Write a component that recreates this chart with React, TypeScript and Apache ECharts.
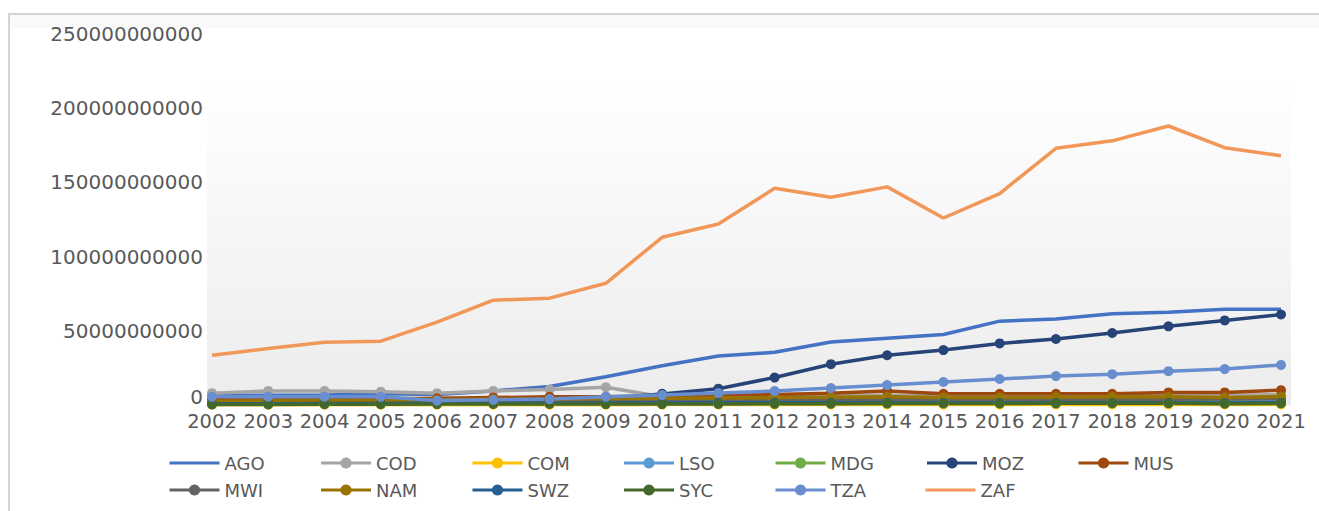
import React, { useEffect, useRef } from "react";
import * as echarts from "echarts";

const years = ["2002","2003","2004","2005","2006","2007","2008","2009","2010","2011","2012","2013","2014","2015","2016","2017","2018","2019","2020","2021"];

// values in billions
const AGO = [6.5, 6.5, 6.8, 7.5, 7, 9.5, 12.5, 19, 26.5, 33, 35.5, 42.5, 45, 47.5, 56.5, 58, 61.5, 62.5, 64.5, 64.5];
const COD = [8, 9.5, 9.5, 9, 8, 9.5, 10.5, 12, 5.5, 6, 6, 6.5, 6.5, 6, 6, 6.5, 6.5, 6.5, 6.5, 7];
const COM = [0.15, 0.15, 0.2, 0.2, 0.2, 0.25, 0.25, 0.25, 0.3, 0.3, 0.3, 0.3, 0.35, 0.3, 0.3, 0.35, 0.35, 0.4, 0.35, 0.4];
const LSO = [1.2, 1.4, 1.6, 1.7, 1.8, 1.9, 2, 2, 2.3, 2.6, 2.7, 2.6, 2.6, 2.5, 2.3, 2.5, 2.6, 2.5, 2.2, 2.5];
const MDG = [2, 2.2, 2.4, 2.6, 2.8, 3, 3.3, 3, 3.2, 3.5, 3.6, 3.7, 3.8, 3.5, 3.6, 4, 4.2, 4.3, 4, 4.8];
const MOZ = [2.2, 2.3, 2.5, 2.6, 2.8, 3, 3.2, 4.5, 7.5, 11, 18.5, 27.5, 33.5, 37, 41.5, 44.5, 48.5, 53, 57, 61];
const MUS = [3.5, 3.8, 4, 4.2, 4.5, 5, 5.5, 5.5, 6, 6.5, 7, 8, 9.5, 7.5, 7.5, 7.5, 7.5, 8.5, 8.5, 10];
const MWI = [1.5, 1.6, 1.7, 1.8, 2, 2.2, 2.5, 2.8, 3, 3.2, 3.3, 3.4, 3.5, 3.5, 3.4, 3.6, 3.8, 3.9, 4, 4.2];
const NAM = [2.5, 2.8, 3, 3.2, 3.5, 3.8, 4, 4.2, 4.5, 4.8, 5, 5.2, 5.5, 5, 5, 5.2, 5.4, 5.5, 5, 5.6];
const SWZ = [0.8, 0.9, 1, 1, 1.1, 1.2, 1.2, 1.3, 1.4, 1.5, 1.5, 1.5, 1.5, 1.4, 1.4, 1.5, 1.5, 1.5, 1.4, 1.6];
const SYC = [0.4, 0.4, 0.5, 0.5, 0.6, 0.7, 0.7, 0.6, 0.6, 0.7, 0.8, 0.9, 1, 1, 1, 1.1, 1.2, 1.2, 0.9, 1.1];
const TZA = [5.5, 5.6, 5.6, 5.5, 3, 3.5, 4, 5.5, 6.7, 8.1, 9.4, 11.4, 13.4, 15.5, 17.5, 19.5, 20.8, 22.8, 24.2, 27];
const ZAF = [33.6, 38, 42.3, 43, 55.8, 70.6, 72, 82, 113, 122, 146, 140, 147, 126, 142.5, 173, 178, 188, 173.4, 168];

const seriesNames = ["AGO","COD","COM","LSO","MDG","MOZ","MUS","MWI","NAM","SWZ","SYC","TZA","ZAF"];
const seriesValues = [AGO, COD, COM, LSO, MDG, MOZ, MUS, MWI, NAM, SWZ, SYC, TZA, ZAF];
const seriesColors = ["#4472C4","#A5A5A5","#FFC000","#5B9BD5","#70AD47","#264478","#9E480E","#636363","#997300","#255E91","#43682B","#698ED0","#F1975A"];
const noMarker = ["AGO","ZAF"];

const yMax = 250000000000;
const yStep = 50000000000;

export default function App() {
  const ref = useRef<HTMLDivElement>(null);
  useEffect(() => {
    if (!ref.current) return;
    const chart = echarts.init(ref.current, null, { renderer: "svg" });
    const font = "DejaVu Sans";
    chart.setOption({
      animation: false,
      backgroundColor: "#ffffff",
      graphic: [
        { type: "rect", z: -10, shape: { x: 9, y: 14, width: 1400, height: 600 }, style: { fill: "#ffffff", stroke: "#d4d4d4", lineWidth: 2 } },
        { type: "rect", z: -9, shape: { x: 10, y: 15, width: 1400, height: 13 }, style: { fill: "#f9f9f9" } },
        {
          type: "rect", z: -8, shape: { x: 207, y: 80, width: 1084, height: 326 },
          style: {
            fill: new echarts.graphic.LinearGradient(0, 0, 0, 1, [
              { offset: 0, color: "#ffffff" },
              { offset: 1, color: "#ececec" },
            ]),
          },
        },
      ],
      grid: { left: 212, right: 38, top: 34, bottom: 106, containLabel: false },
      xAxis: {
        type: "category",
        boundaryGap: false,
        data: years,
        axisLine: { show: false },
        axisTick: { show: false },
        splitLine: { show: false },
        axisLabel: { interval: 0, margin: 6, color: "#595959", fontFamily: font, fontSize: 19.5 },
      },
      yAxis: {
        type: "value",
        min: 0,
        max: yMax,
        interval: yStep,
        axisLine: { show: false },
        axisTick: { show: false },
        splitLine: { show: false },
        axisLabel: {
          margin: 9,
          color: "#595959",
          fontFamily: font,
          fontSize: 20,
          formatter: (v: number) => (v === 0 ? "{z|0}" : String(Math.round(v))),
          rich: {
            z: { color: "#595959", fontFamily: font, fontSize: 20, padding: [0, 0, 16, 0] },
          },
        },
      },
      legend: {
        data: seriesNames.map((name) =>
          noMarker.includes(name)
            ? { name, icon: "path://M0,0 L50,0 L50,3 L0,3 Z" }
            : { name }
        ),
        left: 163,
        top: 447,
        width: 1100,
        itemWidth: 50,
        itemHeight: 14,
        itemGap: 5,
        lineStyle: { width: 3 },
        textStyle: { color: "#595959", fontFamily: font, fontSize: 18, width: 90, lineHeight: 22, overflow: "truncate" },
      },
      series: seriesNames.map((name, i) => ({
        name,
        type: "line",
        data: seriesValues[i].map((v) => v * 1e9),
        symbol: noMarker.includes(name) ? "none" : "circle",
        symbolSize: 10,
        showSymbol: !noMarker.includes(name),
        lineStyle: { width: 3.5, color: seriesColors[i] },
        itemStyle: { color: seriesColors[i] },
        color: seriesColors[i],
        emphasis: { disabled: true },
      })),
    });
    return () => chart.dispose();
  }, []);
  return <div ref={ref} style={{ position: "absolute", left: 0, top: 0, width: 1319, height: 511 }} />;
}
